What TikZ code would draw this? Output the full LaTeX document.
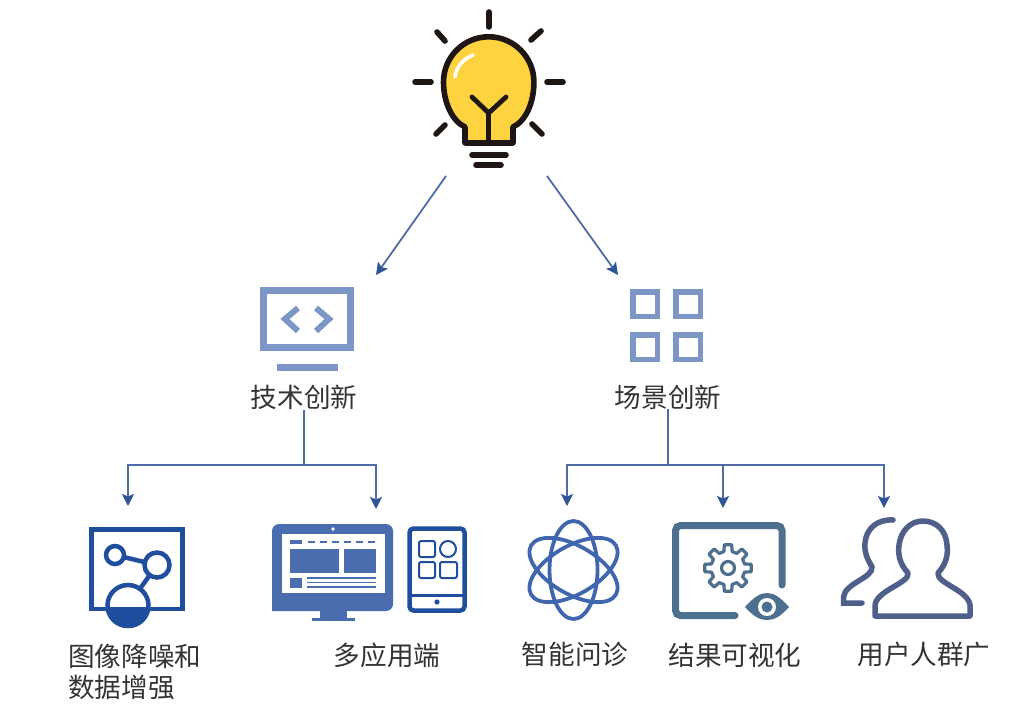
\documentclass[tikz,border=0pt]{standalone}
\usepackage{fontspec}
\setmainfont{Noto Sans CJK SC}
\usepackage{tikz}
\usetikzlibrary{arrows.meta}

\definecolor{linkblue}{HTML}{4F6BA8}
\definecolor{tipblue}{HTML}{2F5597}
\definecolor{paleblue}{HTML}{7C96C6}
\definecolor{deepblue}{HTML}{1F4E9E}
\definecolor{deskblue}{HTML}{4A6DB0}
\definecolor{atomblue}{HTML}{3F66AE}
\definecolor{slateblue}{HTML}{4D7090}
\definecolor{userblue}{HTML}{4F5F8A}
\definecolor{bulbyellow}{HTML}{FFD23F}
\definecolor{bulbline}{HTML}{1E1612}
\definecolor{labelgray}{HTML}{333333}

\tikzset{
  lbl/.style={font=\fontsize{26.6}{26.6}\selectfont, text=labelgray, inner sep=0pt},
  link/.style={draw=linkblue, line width=1.8pt},
  arrow/.style={link, -{Stealth[length=12pt,width=12pt,inset=2.5pt,color=tipblue]}},
  ray/.style={draw=bulbline, line width=5.6pt, line cap=round, line join=round}
}

\begin{document}
\begin{tikzpicture}[x=1pt, y=-1pt]
    \useasboundingbox (0, 0) rectangle (1024, 720);

    % bulb
    \foreach \xa/\ya/\xb/\yb in {488.7/12/488.7/27, 415/82/431/82, 547/82/563/82, 437/32/445/41, 541/31/531/40, 436/134/445/125, 542/134/532/124, 472/155/506/155, 476/165/501/165} {
      \draw[ray] (\xa, \ya) -- (\xb, \yb);
    }
    \draw[ray, fill=bulbyellow] (465, 143) -- (465, 127) .. controls (452, 121) and (443.5, 102) .. (443.5, 82) arc [start angle=180, end angle=0, radius=45.2pt] .. controls (534, 102) and (526, 121) .. (513, 127) -- (513, 143) -- cycle;
    \draw[ray, line width=4.8pt] (472, 97) -- (488.7, 113) -- (506, 97);
    \draw[ray, line width=4.8pt] (488.7, 113) -- (488.7, 143);
    \draw[white, line width=3.5pt, line cap=round] (455, 77) .. controls (456, 67) and (463, 59) .. (473, 55);

    % middle icons
    \draw[paleblue, line width=7pt] (263.5, 290.5) rectangle (350.5, 347.5);
    \fill[paleblue] (277, 364) rectangle (338, 371);
    \draw[paleblue, line width=6pt] (298, 308) -- (285, 319) -- (298, 331);
    \draw[paleblue, line width=6pt] (316, 308) -- (329, 319) -- (316, 331);
    \foreach \x in {630, 673} {
      \foreach \y in {289, 332} {
        \draw[paleblue, line width=5.5pt] (\x + 2.75, \y + 2.75) rectangle (\x + 27.25, \y + 27.25);
      }
    }

    % denoising icon
    \draw[deepblue, line width=4.7pt] (91.5, 529.5) rectangle (182.5, 609);
    \fill[white] (128, 605.5) circle (22.5pt);
    \draw[deepblue, line width=4.5pt] (115, 555) -- (157, 565) -- (128, 605.5);
    \fill[white] (115, 555) circle (9pt);
    \fill[white] (157, 565) circle (12.5pt);
    \draw[deepblue, line width=4.5pt] (115, 555) circle (9pt);
    \draw[deepblue, line width=4.5pt] (157, 565) circle (12.5pt);
    \fill[white] (128, 605.5) circle (20pt);
    \draw[deepblue, line width=4.5pt] (128, 605.5) circle (20.5pt);
    \begin{scope}
      \clip (100, 607) rectangle (160, 632);
      \fill[deepblue] (128, 605.5) circle (22.5pt);
    \end{scope}

    % desktop and tablet icon
    \fill[deskblue, rounded corners=7pt] (272, 611) -- (272, 524) -- (393, 524) -- (393, 611) [sharp corners] -- cycle;
    \fill[white] (282, 534) rectangle (385, 593);
    \fill[white] (333, 529) circle (1.8pt);
    \fill[deskblue] (320, 611) rectangle (347, 618);
    \fill[deskblue] (312, 618) rectangle (355, 621);
    \fill[deskblue] (290, 540) rectangle (302, 544);
    \draw[deskblue, line width=1.2pt, dash pattern=on 7pt off 5pt] (308, 542) -- (376, 542);
    \fill[deskblue] (290, 549) rectangle (339, 573);
    \fill[deskblue] (344, 549) rectangle (376, 573);
    \fill[deskblue] (290, 578) rectangle (302, 588);
    \foreach \y in {578, 582.5, 587} {
      \draw[deskblue, line width=1.3pt] (307, \y) -- (376, \y);
    }
    \draw[deepblue, line width=4.5pt, rounded corners=4pt] (409.5, 528.5) rectangle (464.5, 610.5);
    \draw[deepblue, line width=3pt] (409.5, 595) -- (464.5, 595);
    \fill[deepblue] (437, 602) circle (2.6pt);
    \draw[deepblue, line width=2pt, rounded corners=2pt] (419, 541) rectangle (435, 557);
    \draw[deepblue, line width=2pt] (448, 549) circle (8pt);
    \draw[deepblue, line width=2pt, rounded corners=2pt] (419, 562) rectangle (435, 578);
    \draw[deepblue, line width=2pt, rounded corners=2pt] (440, 562) rectangle (457, 578);

    % atom icon
    \foreach \r in {0, 60, 120} {
      \draw[atomblue, line width=3.8pt, rotate around={\r:(573.5, 570)}] (573.5, 570) ellipse [x radius=24pt, y radius=49pt];
    }

    % result icon
    \draw[slateblue, line width=7pt, line cap=round, rounded corners=5pt] (782, 585) -- (782, 525.5) -- (675.5, 525.5) -- (675.5, 615.5) -- (735, 615.5);
    \begin{scope}[shift={(728, 568)}]
      \draw[slateblue, line width=3.2pt, line join=round] (-14:17) \foreach \a in {0, 45, ..., 315} { -- (\a - 14:17) -- (\a - 9:23.5) -- (\a + 9:23.5) -- (\a + 14:17) } -- cycle;
      \draw[slateblue, line width=3.2pt] (0, 0) circle (6.5pt);
    \end{scope}
    \fill[slateblue] (745, 607) .. controls (754, 597) and (760, 593) .. (767, 593) .. controls (774, 593) and (780, 597) .. (789, 607) .. controls (780, 617) and (774, 620) .. (767, 620) .. controls (760, 620) and (754, 617) .. (745, 607) -- cycle;
    \fill[white] (767, 607) circle (9pt);
    \fill[slateblue] (767, 607) circle (5.5pt);

    % user icon
    \draw[userblue, line width=5.5pt, line join=round] (908, 573) .. controls (899, 563) and (898, 554) .. (899, 545) .. controls (901, 530) and (911, 521) .. (923, 521) .. controls (936, 521) and (946, 530) .. (947, 545) .. controls (948, 554) and (947, 563) .. (938, 573) .. controls (936, 583) and (968, 590) .. (970, 605) -- (970, 616) -- (875, 616) -- (875, 605) .. controls (877, 590) and (910, 583) .. (908, 573) -- cycle;
    \draw[userblue, line width=5.5pt, line cap=round] (893, 520) .. controls (877, 519) and (866, 529) .. (865, 543) .. controls (864, 553) and (868, 560) .. (872, 567) .. controls (873, 578) and (845, 583) .. (843.5, 597) -- (843.5, 603) -- (862, 603);

    % labels
    \node[lbl] (tech) at (304, 397) {技术创新};
    \node[lbl] (scene) at (668, 397) {场景创新};
    \node[lbl, anchor=west] (denoise) at (68, 656) {图像降噪和};
    \node[lbl, anchor=west] (denoisetwo) at (68, 687) {数据增强};
    \node[lbl] (multi) at (387, 655) {多应用端};
    \node[lbl] (consult) at (575, 654) {智能问诊};
    \node[lbl] (result) at (735, 655) {结果可视化};
    \node[lbl] (crowd) at (924, 654) {用户人群广};

    % connectors
    \coordinate (bulbl) at (446, 176);
    \coordinate (bulbr) at (547, 176);
    \coordinate (techin) at (376, 275);
    \coordinate (scenein) at (618, 275);
    \coordinate (techjoin) at (304, 465);
    \coordinate (scenejoin) at (668, 465);
    \coordinate (denoisein) at (128, 506);
    \coordinate (multiin) at (376, 509);
    \coordinate (consultin) at (567, 506);
    \coordinate (resultin) at (723, 508);
    \coordinate (crowdin) at (884, 508);
    \draw[arrow] (bulbl) -- (techin);
    \draw[arrow] (bulbr) -- (scenein);
    \draw[link] (tech.south) -- (techjoin);
    \draw[link] (scene.south) -- (scenejoin);
    \draw[arrow] (techjoin) -| (denoisein);
    \draw[arrow] (techjoin) -| (multiin);
    \draw[arrow] (scenejoin) -| (consultin);
    \draw[arrow] (scenejoin) -| (resultin);
    \draw[arrow] (scenejoin) -| (crowdin);
\end{tikzpicture}
\end{document}
